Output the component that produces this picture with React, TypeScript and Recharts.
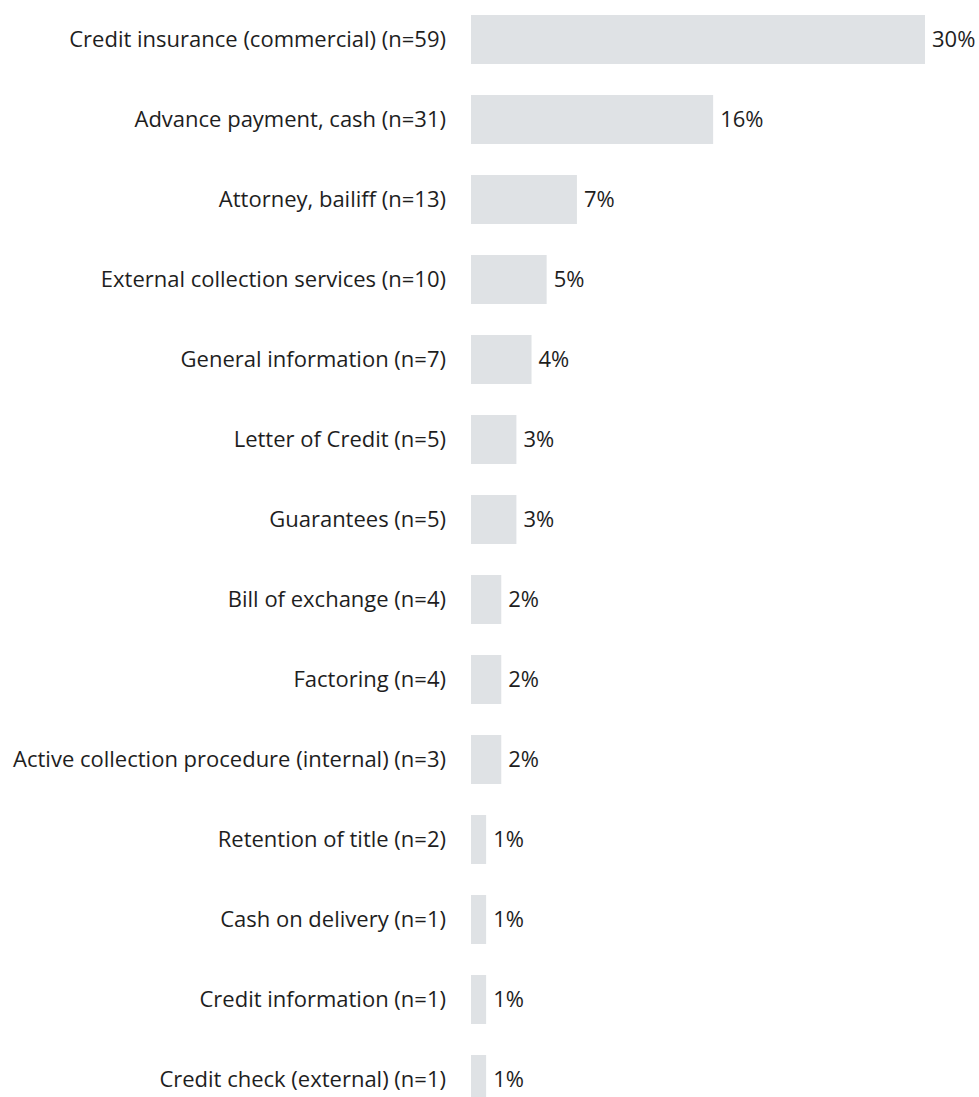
import React from 'react';
import { BarChart, Bar, XAxis, YAxis, LabelList } from 'recharts';

const categories = [
  'Credit insurance (commercial) (n=59)',
  'Advance payment, cash (n=31)',
  'Attorney, bailiff (n=13)',
  'External collection services (n=10)',
  'General information (n=7)',
  'Letter of Credit (n=5)',
  'Guarantees (n=5)',
  'Bill of exchange (n=4)',
  'Factoring (n=4)',
  'Active collection procedure (internal) (n=3)',
  'Retention of title (n=2)',
  'Cash on delivery (n=1)',
  'Credit information (n=1)',
  'Credit check (external) (n=1)',
];

const shares = [30, 16, 7, 5, 4, 3, 3, 2, 2, 2, 1, 1, 1, 1];

const data = categories.map((name, i) => ({ name, value: shares[i] }));

const FONT = '"Open Sans", "Noto Sans", sans-serif';
const TEXT = '#1e1e1e';
const BAR = '#dfe2e5';

export default function App() {
  return (
    <div style={{ position: 'absolute', left: 0, top: 0, width: 979, height: 1097, overflow: 'hidden', background: '#fff' }}>
      <div style={{ position: 'absolute', left: 0, top: -1.5 }}>
        <BarChart
          width={979}
          height={1120}
          data={data}
          layout="vertical"
          margin={{ top: 0, right: 54, bottom: 0, left: 0 }}
          barSize={49}
        >
          <XAxis type="number" domain={[0, 30]} hide />
          <YAxis
            type="category"
            dataKey="name"
            width={471}
            axisLine={false}
            tickLine={false}
            tickSize={0}
            tickMargin={25}
            interval={0}
            tick={{ fill: TEXT, fontSize: 22, fontFamily: FONT }}
          />
          <Bar dataKey="value" fill={BAR} isAnimationActive={false}>
            <LabelList
              dataKey="value"
              position="right"
              offset={7}
              formatter={(v: number) => `${v}%`}
              style={{ fill: TEXT, fontSize: 22, fontFamily: FONT }}
            />
          </Bar>
        </BarChart>
      </div>
    </div>
  );
}
